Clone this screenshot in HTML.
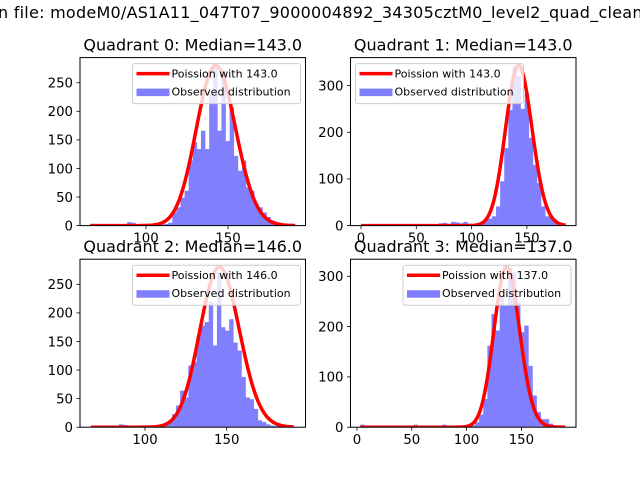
<!DOCTYPE html>
<html><head><meta charset="utf-8"><style>
html,body{margin:0;padding:0;background:#fff;width:640px;height:480px;overflow:hidden}
svg{display:block;font-family:"DejaVu Sans","Liberation Sans",sans-serif}
</style></head><body>
<svg id="fig" width="640" height="480" viewBox="0 0 640 480">
<text x="-2" y="18" font-size="16" letter-spacing="0.25" fill="#000">n file: modeM0/AS1A11_047T07_9000004892_34305cztM0_level2_quad_clean.evt</text>
</svg>
<script>
// ---- data ----
const titles = ["Quadrant 0: Median=143.0","Quadrant 1: Median=143.0","Quadrant 2: Median=146.0","Quadrant 3: Median=137.0"];
const medians = [143, 143, 146, 137];
const peakHeights = [280, 343, 280, 318];
const binStarts = [66, 0, 66.5, 3];
const binWidths = [2.5, 3.7, 2.5, 3.74];
const hist0 = [3,3,2,2,1,1,1,2,3,6,5,2,1,1,1,1,1,2,3,5,23,32,49,61,114,146,134,166,134,230,277,166,271,148,207,122,96,114,67,61,38,32,23,15,9,4,2,1,0,1];
const hist1 = [2,1,1,1,1,1,1,1,1,1,1,1,1,1,1,1,1,2,2,5,6,4,8,7,5,8,4,3,5,8,12,15,20,41,95,166,248,341,320,250,284,188,130,91,41,20,20,8,3,1];
const hist2 = [2,1,2,1,1,1,3,5,4,2,1,1,1,2,2,1,2,3,5,9,23,38,64,52,108,114,160,178,184,219,143,271,175,169,189,148,134,88,52,49,32,12,9,5,3,2,1,1,0,1];
const hist3 = [5,2,1,1,1,1,1,1,1,1,1,1,2,5,1,1,1,1,1,1,5,3,2,2,1,2,3,4,10,25,56,162,225,192,259,242,318,308,248,189,202,122,63,30,16,16,7,3,1,1];
const histData = [hist0, hist1, hist2, hist3];
const xLims = [[59.75,197.25],[-9.5,194.4],[60.2,198.2],[-5.9,199.8]];
const yMaxes = [294, 360, 294, 334];
const xTickVals = [[100,150],[0,50,100,150],[100,150],[0,50,100,150]];
const yTickVals = [[0,50,100,150,200,250],[0,100,200,300],[0,50,100,150,200,250],[0,100,200,300]];
const legendLoc = ["right","left","right","right"];

// ---- layout ----
const NS = "http://www.w3.org/2000/svg";
const svg = document.getElementById("fig");
const boxes = [[80,57.6,225.5,168],[350.5,57.6,225.5,168],[80,259.2,225.5,168],[350.5,259.2,225.5,168]];
function mk(tag, attrs, parent){const e=document.createElementNS(NS,tag);for(const k in attrs)e.setAttribute(k,attrs[k]);(parent||svg).appendChild(e);return e;}
function logPmf(k,l){let s=0;for(let i=2;i<=k;i++)s+=Math.log(i);return k*Math.log(l)-l-s;}

for(let q=0;q<4;q++){
  const [L,T,W,H]=boxes[q];
  const [x0,x1]=xLims[q], ym=yMaxes[q];
  const sx=v=>L+(v-x0)/(x1-x0)*W;
  const sy=v=>T+H-v/ym*H;
  const g=mk("g",{});
  
  
  const clipId="c"+q;
  const cp=mk("clipPath",{id:clipId},g);mk("rect",{x:L,y:T,width:W,height:H},cp);
  const plot=mk("g",{"clip-path":"url(#"+clipId+")"},g);
  const hist=histData[q];
  for(let i=0;i<hist.length;i++){
    const a=binStarts[q]+i*binWidths[q], b=a+binWidths[q];
    const r=mk("rect",{x:sx(a),y:sy(hist[i]),width:sx(b)-sx(a)+0.3,height:sy(0)-sy(hist[i]),fill:"#8080ff"},plot);
    
    
  }
  const lam=medians[q];
  const kmin=Math.ceil(binStarts[q]), kmax=Math.floor(binStarts[q]+binWidths[q]*hist.length);
  const mode=Math.floor(lam);
  const lm=logPmf(mode,lam);
  let d="";
  for(let k=kmin;k<=kmax;k++){
    const v=peakHeights[q]*Math.exp(logPmf(k,lam)-lm);
    d+=(k===kmin?"M":"L")+sx(k).toFixed(2)+","+sy(v).toFixed(2);
  }
  const p=mk("path",{d:d,fill:"none",stroke:"#ff0000","stroke-width":3.5,"stroke-linejoin":"round"},plot);
  
  
  mk("rect",{x:L,y:T,width:W,height:H,fill:"none",stroke:"#000","stroke-width":1},g);
  xTickVals[q].forEach(v=>{
    const x=sx(v);
    mk("line",{x1:x,x2:x,y1:T+H,y2:T+H+3.5,stroke:"#000","stroke-width":0.8},g);
    const t=mk("text",{x:x,y:T+H+17,"font-size":13.3,"text-anchor":"middle"},g);t.textContent=v;
    
    
  });
  yTickVals[q].forEach(v=>{
    const y=sy(v);
    mk("line",{x1:L-3.5,x2:L,y1:y,y2:y,stroke:"#000","stroke-width":0.8},g);
    const t=mk("text",{x:L-7,y:y+4.8,"font-size":13.3,"text-anchor":"end"},g);t.textContent=v;
    
    
  });
  const tt=mk("text",{x:L+W/2,y:T-7,"font-size":16,"text-anchor":"middle"},g);tt.textContent=titles[q];
  
  
  const lw=168, lh=40;
  const lx=legendLoc[q]==="right"?L+W-lw-5:L+5, ly=T+6;
  const lg=mk("g",{},g);
  
  
  mk("rect",{x:lx,y:ly,width:lw,height:lh,rx:2.5,fill:"#fff","fill-opacity":0.8,stroke:"#cccccc","stroke-width":1},lg);
  mk("line",{x1:lx+4,x2:lx+37,y1:ly+10,y2:ly+10,stroke:"#ff0000","stroke-width":3.5},lg);
  const t1=mk("text",{x:lx+39,y:ly+14,"font-size":11},lg);t1.textContent="Poission with "+lam.toFixed(1);
  
  
  mk("rect",{x:lx+4,y:ly+25,width:33,height:7.5,fill:"#8080ff"},lg);
  const t2=mk("text",{x:lx+39,y:ly+32,"font-size":11},lg);t2.textContent="Observed distribution";
  
  
}
</script>
</body></html>
